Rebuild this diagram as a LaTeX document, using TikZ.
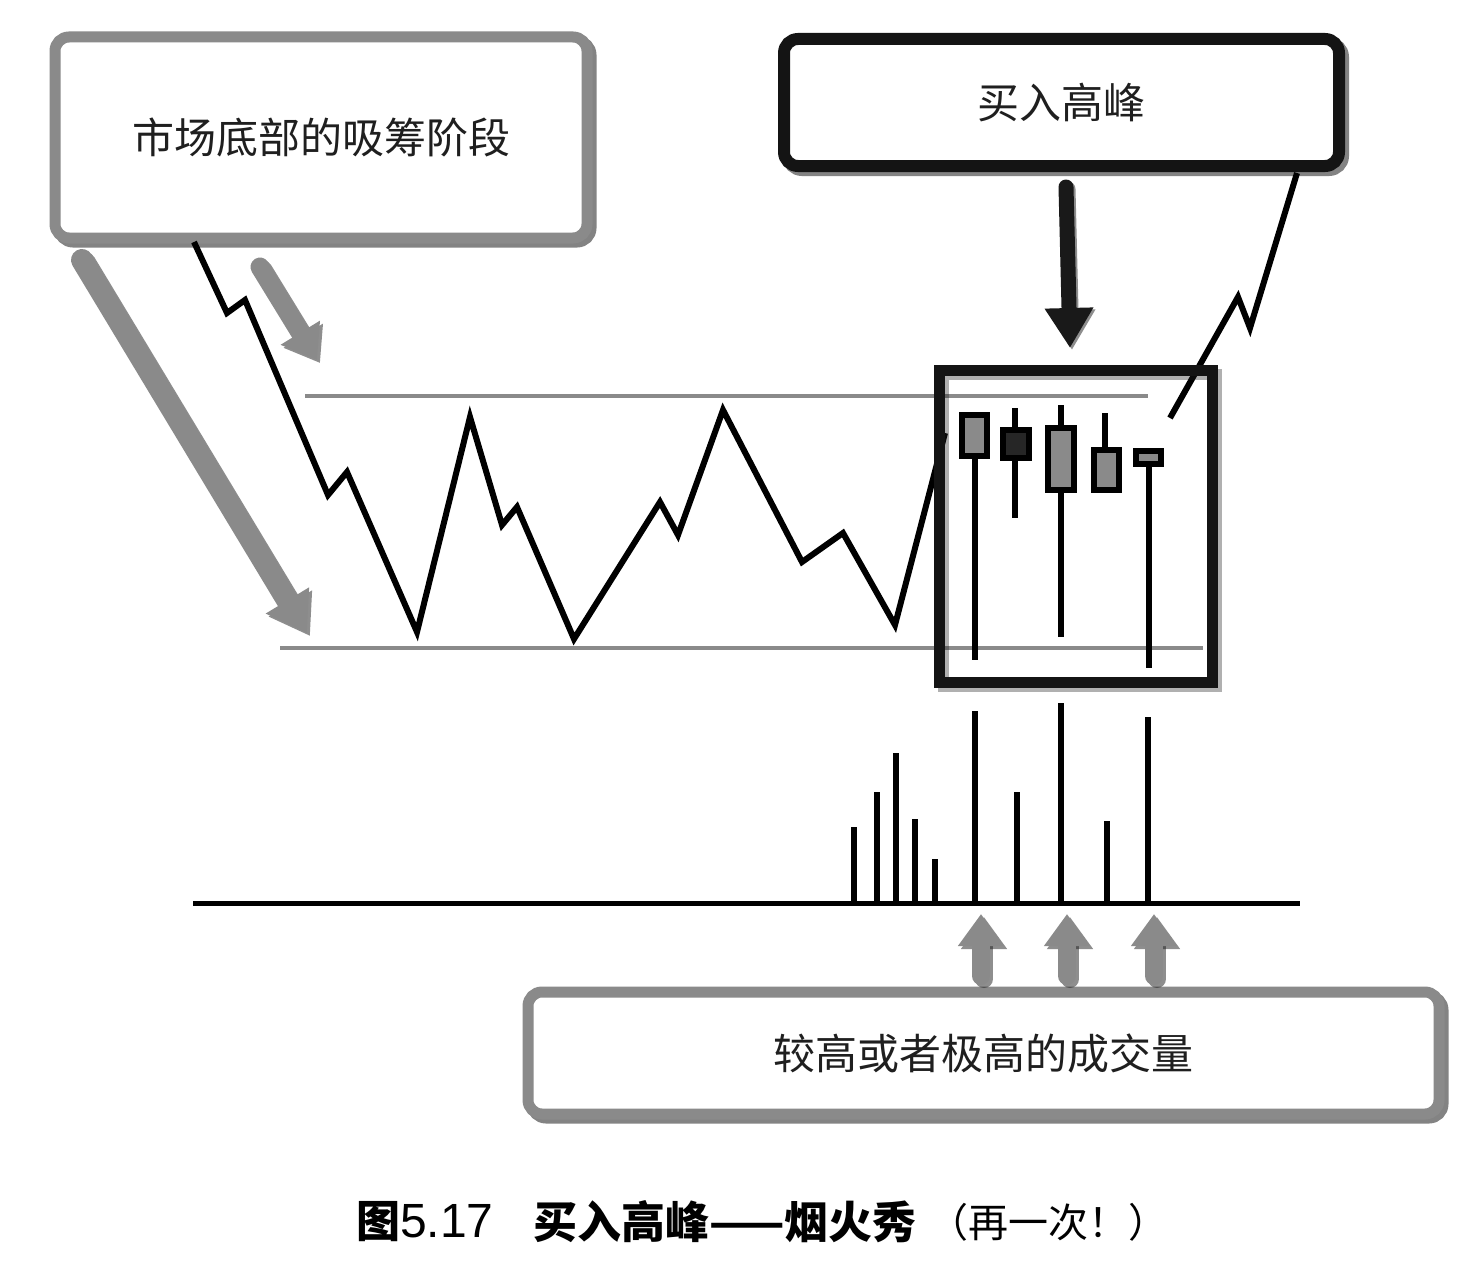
\documentclass[tikz,border=0pt]{standalone}
\usepackage{fontspec}
\setmainfont{Noto Sans CJK SC}
\newfontfamily\latinsans{Liberation Sans}
\usetikzlibrary{arrows.meta}
\definecolor{gry}{RGB}{138,138,138}
\definecolor{shd}{RGB}{30,30,30}
\begin{document}
\begin{tikzpicture}[x=1pt,y=-1pt,
  lbl/.style={font=\fontsize{42}{50}\selectfont, text=black!88},
  grybox/.style={draw=gry, line width=11pt, rounded corners=14pt, fill=white, inner sep=0pt},
  blkbox/.style={draw=black!92, line width=12pt, rounded corners=14pt, fill=white, inner sep=0pt},
  shadowbox/.style={draw=shd, line width=11pt, rounded corners=14pt, opacity=0.55},
  price/.style={line width=6pt, black},
  level/.style={line width=4.5pt, gry},
  wick/.style={line width=6pt, black},
  candle/.style={line width=6pt, draw=black},
  volbar/.style={line width=6pt, black},
  garrow/.style={gry, line width=#1, line cap=round},
  sarrow/.style={shd, opacity=0.5, line width=#1, line cap=round},
]
\useasboundingbox (0,0) rectangle (1461,1279);
\fill[white] (0,0) rectangle (1461,1279);

% ---- boxes with shadows ----
\draw[shadowbox] (59,41) rectangle (591,242);
\node[grybox, minimum width=532pt, minimum height=201pt, lbl] (acc) at (321,137.5) {市场底部的吸筹阶段};

\draw[shadowbox, line width=12pt] (788,43) rectangle (1343,170);
\node[blkbox, minimum width=555pt, minimum height=127pt, lbl] (peak) at (1061.5,102.5) {买入高峰};

\draw[shadowbox] (532,996) rectangle (1443,1118);
\node[grybox, minimum width=911pt, minimum height=122pt, lbl] (vol) at (983.5,1053) {较高或者极高的成交量};

% ---- support / resistance ----
\draw[level] (305,396) -- (1148,396);
\draw[level] (280,648) -- (1203,648);

% ---- price path ----
\draw[price] (194,242) -- (227,313) -- (245,300) -- (328,495) -- (347,472) -- (417,632)
  -- (470,417) -- (502,525) -- (517,507) -- (574,639) -- (660,502) -- (678,535)
  -- (723,410) -- (802,562) -- (843,533) -- (895,625) -- (945,433);
\draw[price] (1170,418) -- (1238,297) -- (1250,328) -- (1297,173);

% ---- candles ----
\draw[wick] (975,456) -- (975,660);
\draw[candle, fill=gry] (962,415) rectangle (987,456);
\draw[wick] (1015,408) -- (1015,518);
\draw[candle, fill=black!85] (1003,430) rectangle (1029,458);
\draw[wick] (1061,405) -- (1061,637);
\draw[candle, fill=gry] (1048,428) rectangle (1074,490);
\draw[wick] (1105,413) -- (1105,450);
\draw[candle, fill=gry] (1094,450) rectangle (1119,490);
\draw[wick] (1149,464) -- (1149,668);
\draw[candle, fill=gry] (1136,451) rectangle (1161,464);

\draw[shd, opacity=0.35, line width=11pt] (943,374) rectangle (1216,686);
\node[draw=black!92, line width=11pt, minimum width=273pt, minimum height=312pt, inner sep=0pt] (cbox) at (1075.5,526) {};

% ---- volume ----
\draw[line width=5pt, black] (193,903) -- (1300,903);
\foreach \x/\t in {854/827, 877/792, 896/753, 915/819, 935/859, 975/711, 1017/792, 1061/703, 1107/821, 1148/717}
  \draw[volbar] (\x,903) -- (\x,\t);

% ---- arrows ----
\coordinate (a1s) at (82,260);   \coordinate (a1e) at (307,633);
\coordinate (a2s) at (260,267);  \coordinate (a2e) at (317,360);
\draw[sarrow=22pt, -{Triangle[width=48pt,length=38pt]}] ([shift={(3pt,-3pt)}]a1s) -- ([shift={(3pt,-3pt)}]a1e);
\draw[garrow=22pt, -{Triangle[width=48pt,length=38pt]}] (a1s) -- (a1e);
\draw[sarrow=19pt, -{Triangle[width=44pt,length=32pt]}] ([shift={(3pt,-3pt)}]a2s) -- ([shift={(3pt,-3pt)}]a2e);
\draw[garrow=19pt, -{Triangle[width=44pt,length=32pt]}] (a2s) -- (a2e);

\coordinate (b1s) at (1066,187); \coordinate (b1e) at (1070,348);
\draw[sarrow=15pt, -{Triangle[width=46pt,length=40pt]}] ([shift={(2pt,-2pt)}]b1s) -- ([shift={(2pt,-2pt)}]b1e);
\draw[black!90, line width=15pt, line cap=round, -{Triangle[width=46pt,length=40pt]}] (b1s) -- (b1e);

\foreach \x in {981,1067,1154}{
  \draw[sarrow=18pt, -{Triangle[width=44pt,length=32pt]}] (\x+3,979) -- (\x+3,917);
  \draw[garrow=18pt, -{Triangle[width=44pt,length=32pt]}] (\x,976) -- (\x,914);
}

% ---- caption ----
\node[anchor=west, inner sep=0pt, font=\fontsize{44}{50}\selectfont] (cap1) at (356,1222) {\textbf{图}{\latinsans\fontsize{48}{50}\selectfont 5.17}};
\node[anchor=west, inner sep=0pt, font=\fontsize{44}{50}\selectfont\bfseries] (cap2) at (533,1222) {买入高峰——烟火秀};
\node[anchor=west, inner sep=0pt, font=\fontsize{40}{48}\selectfont] (cap3) at (928,1222) {（再一次！）};
\end{tikzpicture}
\end{document}
